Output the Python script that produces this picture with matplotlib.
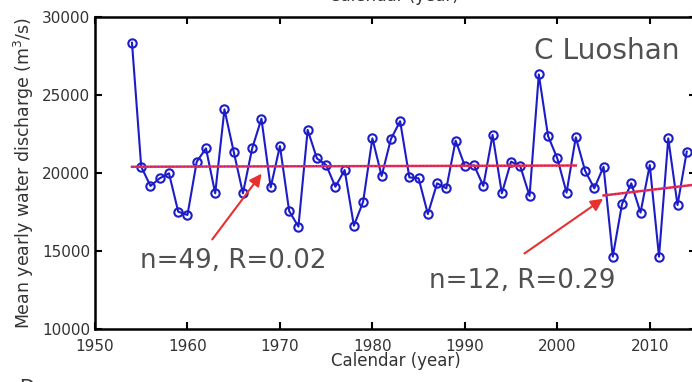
import matplotlib
matplotlib.use("Agg")
import matplotlib.pyplot as plt
import numpy as np

years = list(range(1954, 2015))
discharge = [28350, 20400, 19170, 19660, 19980, 17520, 17310, 20720, 21580, 18700,
             24080, 21370, 18700, 21580, 23480, 19080, 21730, 17560, 16560, 22760,
             20940, 20510, 19120, 20190, 16620, 18160, 22220, 19810, 22170, 23320,
             19720, 19660, 17370, 19340, 19020, 22070, 20450, 20490, 19170, 22440,
             18700, 20730, 20420, 18530, 26320, 22370, 20940, 18740, 22290, 20150,
             19020, 20400, 14640, 18010, 19340, 17460, 20510, 14640, 22220, 17950,
             21370]

trend1_x = [1954, 2002]
trend1_y = [20400, 20480]
trend2_x = [2005, 2015]
trend2_y = [18560, 19260]

xticks = [1950, 1960, 1970, 1980, 1990, 2000, 2010]
yticks = [10000, 15000, 20000, 25000, 30000]

fig = plt.figure(figsize=(6.92, 3.82), dpi=100)
ax = fig.add_axes([95/692, 53/382, 601/692, 312/382])

ax.plot(years, discharge, color='#1c1cc8', lw=1.5, marker='o', ms=6,
        mfc='none', mec='#1c1cc8', mew=1.5, zorder=3)
ax.plot(trend1_x, trend1_y, color='#f03048', lw=1.8, zorder=4)
ax.plot(trend1_x, trend1_y, color='#b01890', lw=1.0, ls=':', zorder=5)
ax.plot(trend2_x, trend2_y, color='#f03048', lw=1.8, zorder=4)
ax.plot(trend2_x, trend2_y, color='#b01890', lw=1.0, ls=':', zorder=5)

ax.set_xlim(1950, 2015)
ax.set_ylim(10000, 30000)
ax.set_xticks(xticks)
ax.set_yticks(yticks)
ax.tick_params(direction='in', length=5, width=1.5, labelsize=11,
               labelcolor='#333333', top=True, right=True)
ax.tick_params(axis='x', pad=7)
for s in ax.spines.values():
    s.set_linewidth(1.8)

ax.set_xlabel('Calendar (year)', fontsize=12, color='#333333', labelpad=-1)
ax.set_ylabel('Mean yearly water discharge (m$^3$/s)', fontsize=12.5,
              color='#333333', labelpad=4)

ax.annotate('', xy=(1968.2, 20100), xytext=(1962.5, 15600),
            arrowprops=dict(arrowstyle='-|>', color='#e83030', lw=1.5,
                            mutation_scale=18), zorder=6)
ax.annotate('', xy=(2005.2, 18450), xytext=(1996.2, 14740),
            arrowprops=dict(arrowstyle='-|>', color='#e83030', lw=1.5,
                            mutation_scale=18), zorder=6)

ax.text(1954.9, 14350, 'n=49, R=0.02', fontsize=18.8, color='#505050',
        va='center', ha='left')
ax.text(1986.1, 13080, 'n=12, R=0.29', fontsize=18.8, color='#505050',
        va='center', ha='left')
ax.text(1997.5, 27800, 'C Luoshan', fontsize=20.2, color='#505050',
        va='center', ha='left')

fig.text(394/692, 1 - 5/382, 'Calendar (year)', fontsize=12, color='#333333',
         ha='center', va='bottom')
fig.text(27/692, -15/382, 'D', fontsize=14, color='#333333',
         ha='center', va='bottom')

fig.savefig('out.png', dpi=100)
